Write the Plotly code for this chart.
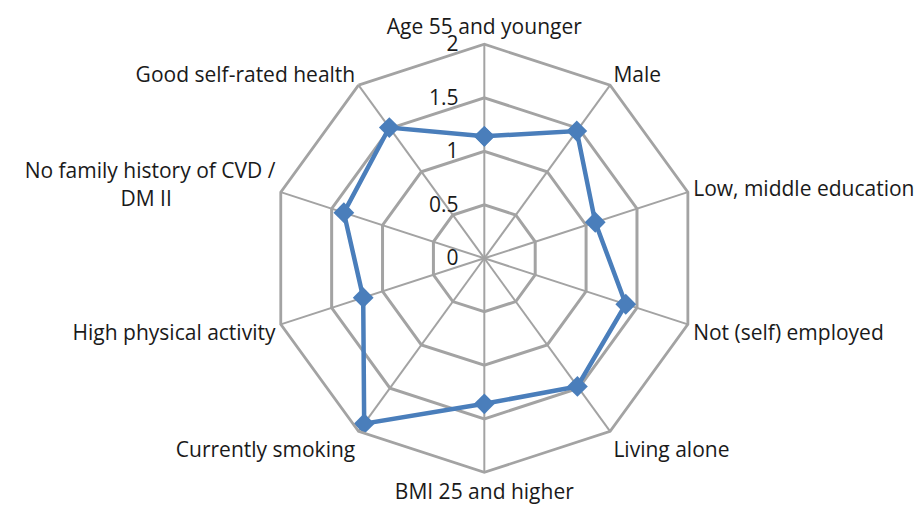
import plotly.graph_objects as go

NB = "\u00a0"
categories = [
    "Age 55 and younger",
    "Male",
    "Low, middle education",
    "Not (self) employed",
    "Living alone",
    "BMI 25 and higher",
    "Currently smoking",
    "High physical activity",
    "No family history of CVD /<br>DM II" + NB * 19,
    "Good self-rated health",
]
values = [1.14, 1.47, 1.09, 1.39, 1.48, 1.36, 1.91, 1.19, 1.38, 1.51]
radial_ticks = [0, 0.5, 1, 1.5, 2]
radial_ticktext = ["0", "0.5", "1", "1.5", "2"]

GRID = "#a3a3a3"
LINE = "#4a7ebb"
FONT = "Open Sans"

fig = go.Figure()
fig.add_trace(go.Scatterpolar(
    r=values + values[:1],
    theta=categories + categories[:1],
    mode="lines+markers",
    line=dict(color=LINE, width=4.5),
    marker=dict(symbol="diamond", size=16, color=LINE),
    showlegend=False,
))

fig.update_layout(
    width=923, height=510,
    margin=dict(l=0, r=0, t=0, b=0),
    paper_bgcolor="white",
    font=dict(family=FONT, size=21, color="#1a1a1a"),
    polar=dict(
        domain=dict(x=[0.2832, 0.7489], y=[0.0896, 0.9289]),
        bgcolor="white",
        gridshape="linear",
        radialaxis=dict(
            range=[0, 2],
            tickvals=radial_ticks,
            ticktext=radial_ticktext,
            angle=90,
            tickangle=90,
            side="counterclockwise",
            showline=False,
            ticks="outside",
            ticklen=18,
            tickcolor="rgba(0,0,0,0)",
            gridcolor=GRID,
            gridwidth=2.8,
            tickfont=dict(size=21, family=FONT, color="#1a1a1a"),
        ),
        angularaxis=dict(
            direction="clockwise",
            rotation=90,
            showline=True,
            linecolor=GRID,
            linewidth=2.8,
            gridcolor=GRID,
            gridwidth=1.8,
            ticks="",
            tickfont=dict(size=21, family=FONT, color="#1a1a1a"),
        ),
    ),
)

fig.write_html("out.html")
